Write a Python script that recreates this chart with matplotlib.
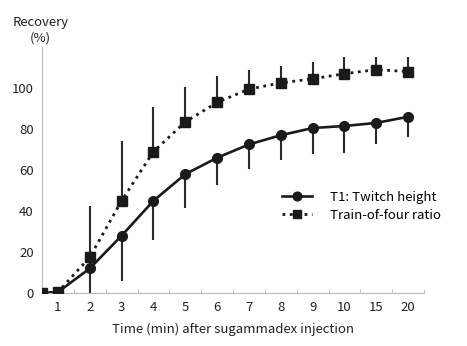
import numpy as np
import matplotlib
matplotlib.use("Agg")
import matplotlib.pyplot as plt

# recovery after sugammadex (mean, one-sided SD)
times = ["0", "1", "2", "3", "4", "5", "6", "7", "8", "9", "10", "15", "20"]
t1_mean = [0, 0.5, 12, 28, 45, 58, 66, 72.5, 77, 80.5, 81.5, 83, 86]
t1_sd = [0, 0, 12, 22, 19, 16.5, 13.3, 12, 12, 12.5, 13, 10.3, 10]
tof_mean = [0, 0.5, 17.5, 45, 69, 83.5, 93, 99.5, 102.5, 104.5, 107, 109, 108]
tof_sd = [0, 0, 25, 29, 22, 17, 13, 9.5, 8.5, 8.2, 8, 6, 7]

plt.rcParams["font.family"] = ["Noto Sans CJK JP", "DejaVu Sans"]

# categories sit at 1..12, time 0 sits on the y axis
pos = np.arange(len(times)).astype(float)
pos[0] = 0.5
zeros = np.zeros(len(times))

fig = plt.figure(figsize=(4.67, 3.46), dpi=100)
ax = fig.add_axes([0.09, 0.153, 0.818, 0.711])

dark = "#1a1a1a"
ax.errorbar(pos, t1_mean, yerr=[t1_sd, zeros], fmt="none", ecolor="#2a2a2a",
            elinewidth=1.5, capsize=0, zorder=2)
ax.errorbar(pos, tof_mean, yerr=[zeros, tof_sd], fmt="none", ecolor="#2a2a2a",
            elinewidth=1.5, capsize=0, zorder=2)
ax.plot(pos, t1_mean, "-o", color=dark, lw=1.9, ms=7, zorder=3,
        label="T1: Twitch height")
ax.plot(pos, tof_mean, ":s", color=dark, lw=2.0, ms=6.5, zorder=3,
        label="Train-of-four ratio")

ax.set_xlim(0.5, 12.5)
ax.set_ylim(0, 120)
ax.set_yticks([0, 20, 40, 60, 80, 100])
ax.set_xticks(pos[1:])
ax.set_xticklabels(times[1:])
ax.set_xticks(np.arange(1.5, 12.6, 1), minor=True)
ax.tick_params(axis="both", which="major", length=0, labelsize=9.5,
               labelcolor="#222222", pad=6)
ax.tick_params(axis="x", which="minor", length=3, color="#bbbbbb", direction="in")
ax.tick_params(axis="y", which="minor", length=0)

for s in ["top", "right"]:
    ax.spines[s].set_visible(False)
for s in ["left", "bottom"]:
    ax.spines[s].set_color("#bbbbbb")
    ax.spines[s].set_linewidth(0.8)

ax.set_xlabel("Time (min) after sugammadex injection", fontsize=9.5,
              color="#222222", labelpad=6)
fig.text(0.086, 0.935, "Recovery", ha="center", va="center", fontsize=9.5,
         color="#222222")
fig.text(0.086, 0.89, "(%)", ha="center", va="center", fontsize=9.5,
         color="#222222")

ax.legend(loc="upper left", bbox_to_anchor=(0.597, 0.463), frameon=False,
          fontsize=9.5, handlelength=2.3, labelspacing=0.35, handletextpad=1.35,
          markerscale=0.9)

fig.savefig("out.png", dpi=100)
